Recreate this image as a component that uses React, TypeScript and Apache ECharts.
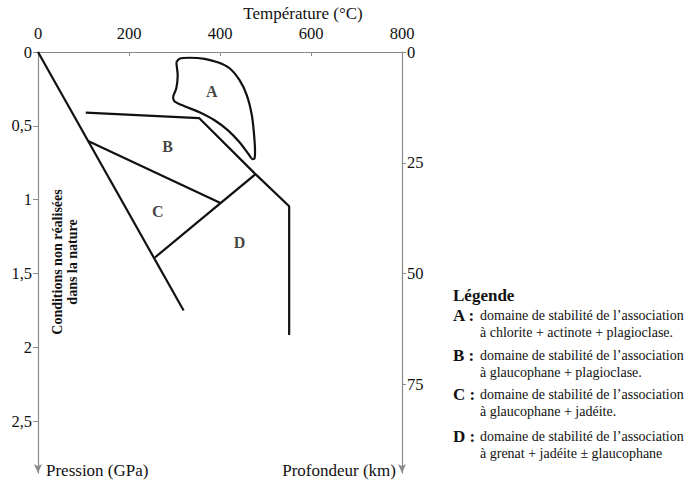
import React, { useEffect, useRef } from "react";
import * as echarts from "echarts";

const FONT = "'Liberation Serif', 'Times New Roman', serif";

// Axis ticks
const temperatureTicks = [0, 200, 400, 600, 800];
const pressureTicks = [0, 0.5, 1, 1.5, 2, 2.5];
const depthTicks = [0, 25, 50, 75];

// Boundaries (température °C, pression GPa)
const geothermLimit = [
  [0, 0],
  [320, 1.75],
];
const boundaryBD = [
  [105, 0.41],
  [354, 0.447],
  [478, 0.827],
  [552, 1.044],
  [552, 1.916],
];
const boundaryBC = [
  [110, 0.602],
  [401, 1.022],
];
const boundaryCD = [
  [257, 1.391],
  [478, 0.827],
];
const domainA = [
  [304, 0.07],
  [311, 0.046],
  [333, 0.039],
  [366, 0.046],
  [395, 0.07],
  [421, 0.11],
  [443, 0.191],
  [459, 0.293],
  [470, 0.428],
  [475, 0.564],
  [477, 0.679],
  [476, 0.719],
  [472, 0.726],
  [463, 0.692],
  [443, 0.611],
  [417, 0.529],
  [388, 0.462],
  [355, 0.408],
  [322, 0.367],
  [300, 0.334],
  [297, 0.306],
  [304, 0.246],
  [307, 0.158],
  [305, 0.097],
  [304, 0.07],
];
const domainNames = ["A", "B", "C", "D"];
const domainLabelT = [382, 285, 263, 443];
const domainLabelP = [0.266, 0.638, 1.078, 1.288];

const legendTitle = "Légende";
const legendKeys = ["A :", "B :", "C :", "D :"];
const legendLine1 = [
  "domaine de stabilité de l’association",
  "domaine de stabilité de l’association",
  "domaine de stabilité de l’association",
  "domaine de stabilité de l’association",
];
const legendLine2 = [
  "à chlorite + actinote + plagioclase.",
  "à glaucophane + plagioclase.",
  "à glaucophane + jadéite.",
  "à grenat + jadéite ± glaucophane",
];
const legendRowY = [315, 355, 394, 436];

const AXIS_COLOR = "#8a8a8a";
const INK = "#111";

export default function App() {
  const ref = useRef<HTMLDivElement>(null);
  useEffect(() => {
    if (!ref.current) return;
    const chart = echarts.init(ref.current, null, { renderer: "svg" });
    const lineSeries = (data: number[][], smooth: number | boolean = false) => ({
      type: "line",
      data,
      xAxisIndex: 0,
      yAxisIndex: 0,
      showSymbol: false,
      symbol: "none",
      smooth,
      lineStyle: { color: INK, width: 2.2 },
      silent: true,
    });

    const legendGraphics: any[] = [
      {
        type: "text",
        x: 453,
        y: 295,
        style: { text: legendTitle, font: `bold 17px ${FONT}`, fill: INK, textVerticalAlign: "middle" },
      },
    ];
    legendKeys.forEach((k, i) => {
      const y = legendRowY[i];
      legendGraphics.push({
        type: "text",
        x: 453,
        y,
        style: { text: k, font: `bold 17px ${FONT}`, fill: INK, textVerticalAlign: "middle" },
      });
      legendGraphics.push({
        type: "text",
        x: 480,
        y,
        style: { text: legendLine1[i], font: `14px ${FONT}`, fill: INK, textVerticalAlign: "middle" },
      });
      legendGraphics.push({
        type: "text",
        x: 480,
        y: y + 17,
        style: { text: legendLine2[i], font: `14px ${FONT}`, fill: INK, textVerticalAlign: "middle" },
      });
    });

    chart.setOption({
      animation: false,
      backgroundColor: "#fff",
      grid: { left: 38, top: 52, width: 364, height: 421, containLabel: false },
      xAxis: {
        type: "value",
        position: "top",
        min: 0,
        max: 800,
        interval: 200,
        axisLine: { show: true, lineStyle: { color: AXIS_COLOR, width: 1.2 } },
        axisTick: { show: true, inside: true, length: 4, lineStyle: { color: AXIS_COLOR } },
        axisLabel: {
          customValues: temperatureTicks,
          fontFamily: FONT,
          fontSize: 16.5,
          color: INK,
          margin: 10,
        },
        splitLine: { show: false },
      },
      yAxis: [
        {
          type: "value",
          position: "left",
          inverse: true,
          min: 0,
          max: 2.85,
          axisLine: {
            show: true,
            lineStyle: { color: AXIS_COLOR, width: 1.2 },
            symbol: ["arrow", "none"],
            symbolSize: [6, 9],
          },
          axisTick: {
            show: true,
            customValues: pressureTicks,
            length: 5,
            lineStyle: { color: AXIS_COLOR },
          },
          axisLabel: {
            customValues: pressureTicks,
            formatter: (v: number) => String(v).replace(".", ","),
            fontFamily: FONT,
            fontSize: 16.5,
            color: INK,
            margin: 6,
          },
          splitLine: { show: false },
        },
        {
          type: "value",
          position: "right",
          inverse: true,
          min: 0,
          max: 95,
          axisLine: {
            show: true,
            lineStyle: { color: AXIS_COLOR, width: 1.2 },
            symbol: ["arrow", "none"],
            symbolSize: [6, 9],
          },
          axisTick: {
            show: true,
            customValues: depthTicks,
            length: 4,
            lineStyle: { color: AXIS_COLOR },
          },
          axisLabel: {
            customValues: depthTicks,
            fontFamily: FONT,
            fontSize: 16.5,
            color: INK,
            margin: 5,
          },
          splitLine: { show: false },
        },
      ],
      series: [
        lineSeries(geothermLimit),
        lineSeries(boundaryBD),
        lineSeries(boundaryBC),
        lineSeries(boundaryCD),
        lineSeries(domainA, 0.3),
        {
          type: "scatter",
          xAxisIndex: 0,
          yAxisIndex: 0,
          symbolSize: 0,
          silent: true,
          data: domainNames.map((n, i) => ({ name: n, value: [domainLabelT[i], domainLabelP[i]] })),
          label: {
            show: true,
            position: "inside",
            formatter: "{b}",
            fontFamily: FONT,
            fontWeight: "bold",
            fontSize: 16,
            color: INK,
          },
        },
      ],
      graphic: [
        {
          type: "text",
          x: 303,
          y: 13,
          style: {
            text: "Température (°C)",
            font: `17px ${FONT}`,
            fill: INK,
            textAlign: "center",
            textVerticalAlign: "middle",
          },
        },
        {
          type: "text",
          x: 46,
          y: 470,
          style: {
            text: "Pression (GPa)",
            font: `17px ${FONT}`,
            fill: INK,
            textAlign: "left",
            textVerticalAlign: "middle",
          },
        },
        {
          type: "text",
          x: 396,
          y: 470,
          style: {
            text: "Profondeur (km)",
            font: `17px ${FONT}`,
            fill: INK,
            textAlign: "right",
            textVerticalAlign: "middle",
          },
        },
        {
          type: "text",
          x: 64.5,
          y: 262,
          rotation: Math.PI / 2,
          style: {
            text: "Conditions non réalisées\ndans la nature",
            font: `bold 14px ${FONT}`,
            fill: INK,
            textAlign: "center",
            textVerticalAlign: "middle",
            lineHeight: 15,
          },
        },
        ...legendGraphics,
      ],
    });
    return () => chart.dispose();
  }, []);
  return (
    <div
      ref={ref}
      style={{ position: "absolute", left: 0, top: 0, width: 700, height: 483 }}
    />
  );
}
